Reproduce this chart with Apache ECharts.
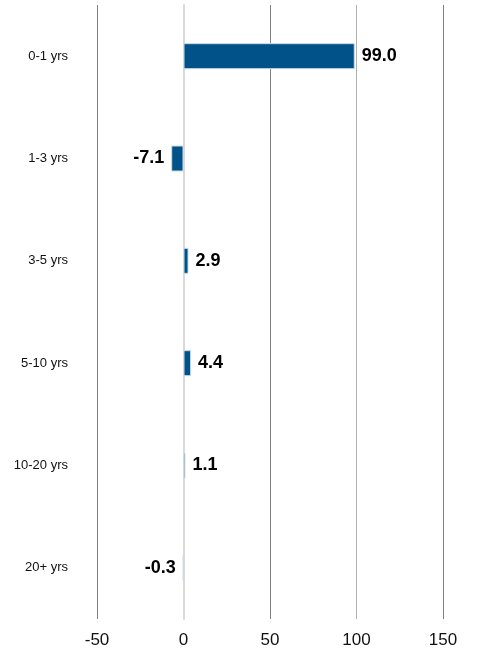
<!DOCTYPE html>
<html>
<head>
<meta charset="utf-8">
<script src="https://cdn.jsdelivr.net/npm/echarts@6/dist/echarts.min.js"></script>
<style>html,body{margin:0;padding:0;background:#fff}#c{width:477px;height:660px}</style>
</head>
<body>
<div id="c"></div>
<script>
const categories = ['0-1 yrs', '1-3 yrs', '3-5 yrs', '5-10 yrs', '10-20 yrs', '20+ yrs'];
const values = [99.0, -7.1, 2.9, 4.4, 1.1, -0.3];
const xTicks = [-50, 0, 50, 100, 150];

const FONT = '"Liberation Sans Narrow", "Liberation Sans", Arial, sans-serif';
const chart = echarts.init(document.getElementById('c'), null, {renderer: 'canvas'});
chart.setOption({
  animation: false,
  grid: {left: 97, right: 34, top: 5, bottom: 41, containLabel: false},
  xAxis: {
    type: 'value', min: xTicks[0], max: xTicks[xTicks.length - 1], interval: 50,
    axisLine: {show: false}, axisTick: {show: false},
    splitLine: {show: true, lineStyle: {color: ['#808080', '#d9d9d9', '#808080', '#b0b0b0', '#808080'], width: 1}},
    axisLabel: {fontFamily: FONT, fontSize: 17, color: '#111', margin: 13}
  },
  yAxis: {
    type: 'category', data: categories, inverse: true,
    axisLine: {show: true, onZero: true, lineStyle: {color: '#d9d9d9', width: 2}},
    axisTick: {show: false},
    axisLabel: {fontFamily: FONT, fontSize: 13, color: '#111', margin: 29}
  },
  series: [{
    type: 'bar', barWidth: 26,
    itemStyle: {color: '#005288', borderColor: '#c9dbe8', borderWidth: 1},
    data: values.map(v => ({
      value: v,
      label: {position: v >= 0 ? 'right' : 'left'}
    })),
    label: {
      show: true, distance: 7,
      fontFamily: FONT, fontSize: 18, fontWeight: 'bold', color: '#000',
      formatter: p => p.value.toFixed(1)
    }
  }]
});
</script>
</body>
</html>
